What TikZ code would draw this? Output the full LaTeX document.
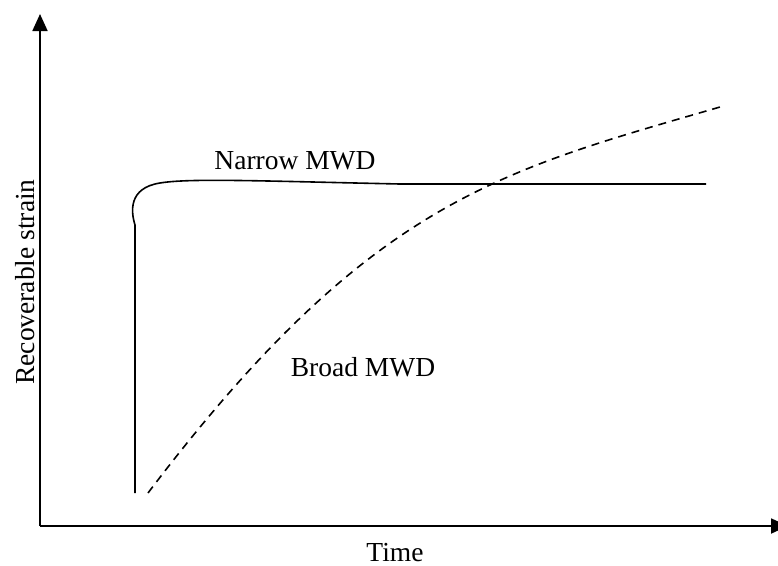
\documentclass[tikz,border=0pt]{standalone}
\usepackage{fontspec}
\setmainfont{Liberation Serif}
\usetikzlibrary{arrows.meta}

\begin{document}
\begin{tikzpicture}[
		x=1pt, y=-1pt,
		axis/.style={line width=1.8pt, -{Triangle[length=17pt, width=15pt]}},
		curve/.style={line width=1.6pt},
		every node/.style={font=\fontsize{27.5}{33}\selectfont, inner sep=0pt}
	]
  \useasboundingbox (0,0) rectangle (778,565);
  \coordinate (O) at (40,526);
  \coordinate (y_top) at (40,14);
  \coordinate (x_end) at (788,526);
  \coordinate (narrow_start) at (135,493);
  \coordinate (narrow_end) at (706,184);
  \coordinate (broad_start) at (148,493);
  \coordinate (broad_end) at (720,107);
  \node (narrow) [anchor=base] at (295,169) {Narrow MWD};
  \node (broad) [anchor=base] at (363,376) {Broad MWD};
  \node (time) [anchor=base] at (395,561) {Time};
  \node (strain) [anchor=base, rotate=90] at (34,282) {Recoverable strain};
  \draw [axis] (O) -- (y_top);
  \draw [axis] (O) -- (x_end);
  \draw [curve] (narrow_start) -- (135,225) .. controls (131,212) and (128,188) .. (160,183)
    .. controls (190,178) and (260,181) .. (400,184) -- (narrow_end);
  \draw [curve, dash pattern=on 8pt off 6pt] (broad_start) .. controls (370,200) and (500,171) .. (broad_end);
\end{tikzpicture}
\end{document}
